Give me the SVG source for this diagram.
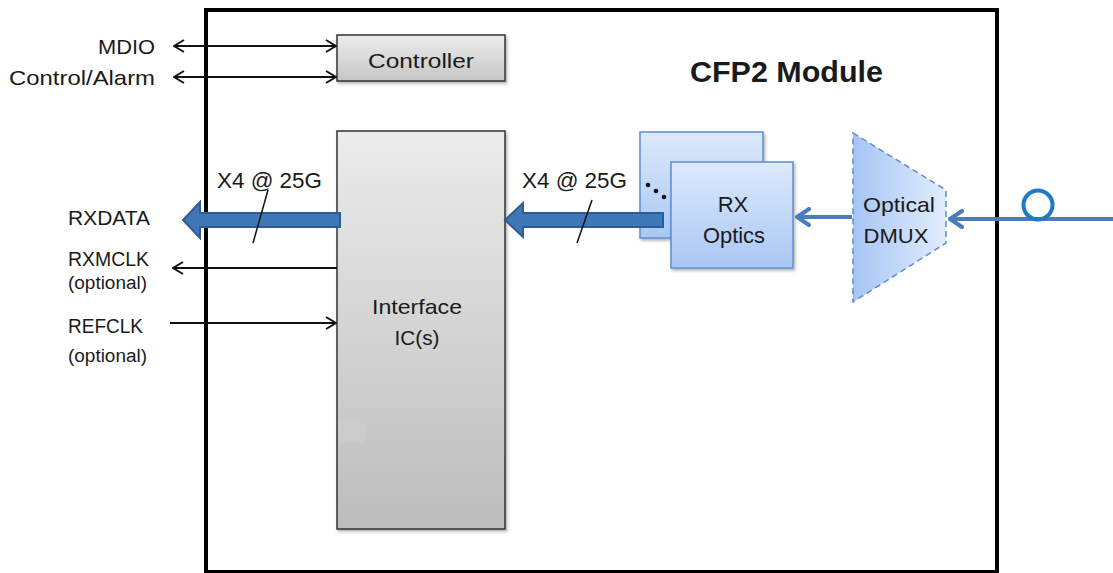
<svg xmlns="http://www.w3.org/2000/svg" width="1113" height="573" viewBox="0 0 1113 573">
<defs>
<style>
.t{font-family:"Liberation Sans",Arial,sans-serif;fill:#1a1a1a;}
.thin{stroke:#111;stroke-width:2;fill:none;}
.blue{stroke:#4a7ebb;stroke-width:4;fill:none;}
.thick{fill:#4077b6;stroke:#2d5b93;stroke-width:2;}
</style>
<linearGradient id="gray" x1="0" y1="0" x2="0" y2="1">
<stop offset="0" stop-color="#ececec"/><stop offset="1" stop-color="#bcbcbc"/>
</linearGradient>
<linearGradient id="gray2" x1="0" y1="0" x2="0" y2="1">
<stop offset="0" stop-color="#ececec"/><stop offset="1" stop-color="#c6c6c6"/>
</linearGradient>
<linearGradient id="lblue" x1="0" y1="0" x2="0" y2="1">
<stop offset="0" stop-color="#dde9fc"/><stop offset="1" stop-color="#a9c7f4"/>
</linearGradient>
<linearGradient id="dmux" x1="0" y1="0" x2="1" y2="0">
<stop offset="0" stop-color="#a6c5f5"/><stop offset="1" stop-color="#e2edfd"/>
</linearGradient>
<filter id="sh" x="-10%" y="-10%" width="130%" height="130%">
<feDropShadow dx="1.5" dy="2" stdDeviation="1.5" flood-color="#000" flood-opacity="0.3"/>
</filter>
<marker id="ah" viewBox="0 0 12 14" refX="11" refY="7" markerWidth="12" markerHeight="14" markerUnits="userSpaceOnUse" orient="auto-start-reverse">
<path d="M1 1 L11 7 L1 13" fill="none" stroke="#111" stroke-width="2"/>
</marker>
<marker id="bh" viewBox="0 0 16 20" refX="14" refY="10" markerWidth="16" markerHeight="20" markerUnits="userSpaceOnUse" orient="auto">
<path d="M2 2 L14 10 L2 18" fill="none" stroke="#4a7ebb" stroke-width="4" stroke-linecap="round" stroke-linejoin="round"/>
</marker>
</defs>
<rect width="1113" height="573" fill="#fff"/>

<g id="module">
<rect x="206" y="10" width="791" height="562" fill="none" stroke="#000" stroke-width="4"/>
<text class="t" x="690" y="82" font-size="29" font-weight="bold" textLength="193" lengthAdjust="spacingAndGlyphs">CFP2 Module</text>
</g>

<g id="controller">
<rect x="337" y="35" width="168" height="46" fill="url(#gray2)" stroke="#333" stroke-width="1.5" filter="url(#sh)"/>
<text class="t" x="421" y="68" font-size="20" text-anchor="middle" textLength="106" lengthAdjust="spacingAndGlyphs">Controller</text>
</g>

<g id="interface">
<rect x="337" y="131" width="168" height="398" fill="url(#gray)" stroke="#333" stroke-width="1.5" filter="url(#sh)"/>
<rect x="338" y="420" width="27" height="23" fill="#cbcbcb"/>
<text class="t" x="417" y="314" font-size="21" text-anchor="middle" textLength="90" lengthAdjust="spacingAndGlyphs">Interface</text>
<text class="t" x="417" y="345" font-size="21" text-anchor="middle" textLength="45" lengthAdjust="spacingAndGlyphs">IC(s)</text>
</g>

<g id="rxoptics">
<rect x="640" y="132" width="123" height="106" fill="url(#lblue)" stroke="#5b8fd0" stroke-width="1.5" filter="url(#sh)"/>
<rect x="671" y="162" width="122" height="106" fill="url(#lblue)" stroke="#5b8fd0" stroke-width="1.5" filter="url(#sh)"/>
<circle cx="648" cy="185" r="2.3" fill="#111"/>
<circle cx="656" cy="191" r="2.3" fill="#111"/>
<circle cx="664" cy="197" r="2.3" fill="#111"/>
<text class="t" x="733" y="212" font-size="22" text-anchor="middle">RX</text>
<text class="t" x="734" y="243" font-size="22" text-anchor="middle" textLength="62" lengthAdjust="spacingAndGlyphs">Optics</text>
</g>

<g id="dmux">
<path d="M853 133 L946 190 L946 243 L853 302 Z" fill="url(#dmux)" stroke="#5b8fd0" stroke-width="1.5" stroke-dasharray="6 4"/>
<text class="t" x="899" y="212" font-size="21" text-anchor="middle" textLength="72" lengthAdjust="spacingAndGlyphs">Optical</text>
<text class="t" x="896" y="243" font-size="21" text-anchor="middle" textLength="65" lengthAdjust="spacingAndGlyphs">DMUX</text>
</g>

<g id="labels">
<text class="t" x="155" y="54" font-size="21" text-anchor="end" textLength="57" lengthAdjust="spacingAndGlyphs">MDIO</text>
<text class="t" x="155" y="85" font-size="21" text-anchor="end" textLength="146" lengthAdjust="spacingAndGlyphs">Control/Alarm</text>
<text class="t" x="68" y="225" font-size="20" textLength="82" lengthAdjust="spacingAndGlyphs">RXDATA</text>
<text class="t" x="68" y="266" font-size="20" textLength="81" lengthAdjust="spacingAndGlyphs">RXMCLK</text>
<text class="t" x="68" y="289" font-size="18" textLength="79" lengthAdjust="spacingAndGlyphs">(optional)</text>
<text class="t" x="68" y="333" font-size="20" textLength="75" lengthAdjust="spacingAndGlyphs">REFCLK</text>
<text class="t" x="68" y="362" font-size="18" textLength="79" lengthAdjust="spacingAndGlyphs">(optional)</text>
<text class="t" x="217" y="188" font-size="22" textLength="105" lengthAdjust="spacingAndGlyphs">X4 @ 25G</text>
<text class="t" x="522" y="188" font-size="22" textLength="105" lengthAdjust="spacingAndGlyphs">X4 @ 25G</text>
</g>

<g id="connectors">
<line class="thin" x1="174" y1="46" x2="336" y2="46" marker-start="url(#ah)" marker-end="url(#ah)"/>
<line class="thin" x1="174" y1="77" x2="336" y2="77" marker-start="url(#ah)" marker-end="url(#ah)"/>
<line class="thin" x1="337" y1="268" x2="173" y2="268" marker-end="url(#ah)"/>
<line class="thin" x1="170" y1="323" x2="336" y2="323" marker-end="url(#ah)"/>
<path class="thick" d="M340 213 L200 213 L200 202 L183 220 L200 238 L200 227 L340 227 Z"/>
<path class="thick" d="M663 213 L523 213 L523 203 L505 220 L523 237 L523 227 L663 227 Z"/>
<line x1="268" y1="190" x2="253" y2="243" stroke="#111" stroke-width="1.5"/>
<line x1="592" y1="200" x2="577" y2="243" stroke="#111" stroke-width="1.5"/>
<line class="blue" x1="852" y1="217" x2="797" y2="217" marker-end="url(#bh)"/>
<line class="blue" x1="1113" y1="219" x2="950" y2="219" marker-end="url(#bh)"/>
<circle cx="1038" cy="205" r="14.5" fill="none" stroke="#1f78c8" stroke-width="4"/>
</g>
</svg>
